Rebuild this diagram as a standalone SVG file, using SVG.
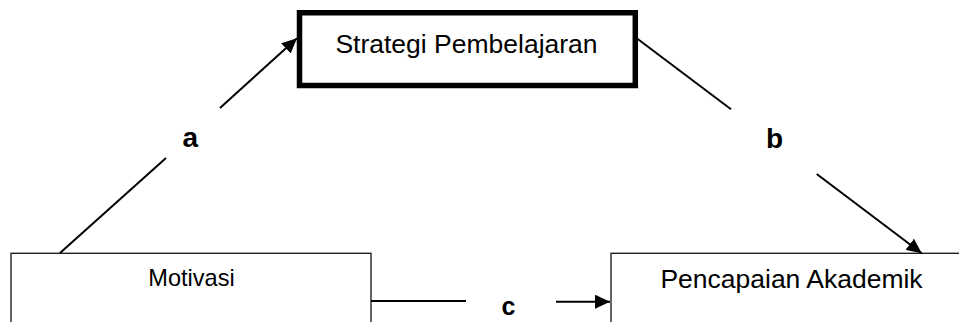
<svg xmlns="http://www.w3.org/2000/svg" width="959" height="322" viewBox="0 0 959 322">
<style>
.box{fill:#fff;stroke:#222;stroke-width:1.4}
.thick{fill:#fff;stroke:#000;stroke-width:5.5}
.lbl{font-family:"Liberation Sans",Arial,sans-serif;fill:#000}
.cn{stroke:#000;stroke-width:2;fill:none}
.k{font-family:"Liberation Sans",Arial,sans-serif;font-weight:bold;fill:#000}
</style>
<defs>
<marker id="ah" viewBox="0 0 15 14" refX="15" refY="7" markerWidth="15" markerHeight="14" markerUnits="userSpaceOnUse" orient="auto">
<path d="M0,0 L15,7 L0,14 z" fill="#000"/>
</marker>
</defs>
<rect width="959" height="322" fill="#fff"/>
<g id="node-strategi">
<rect class="thick" x="299.5" y="12.75" width="335.8" height="72.75"/>
<text class="lbl" x="466.5" y="53" font-size="26.5" text-anchor="middle">Strategi Pembelajaran</text>
</g>
<g id="node-motivasi">
<rect class="box" x="11" y="253.3" width="360" height="120"/>
<text class="lbl" x="191.5" y="286" font-size="23.6" text-anchor="middle">Motivasi</text>
</g>
<g id="node-pencapaian">
<rect class="box" x="611" y="253.3" width="400" height="120"/>
<text class="lbl" x="791.5" y="288" font-size="26.5" text-anchor="middle">Pencapaian Akademik</text>
</g>
<g id="connectors">
<line class="cn" x1="60" y1="253" x2="166" y2="158"/>
<line class="cn" x1="220" y1="108" x2="297" y2="38.3" marker-end="url(#ah)"/>
<line class="cn" x1="636.7" y1="38.3" x2="731" y2="109.3"/>
<line class="cn" x1="816.7" y1="174" x2="921.7" y2="253.3" marker-end="url(#ah)"/>
<line class="cn" x1="371" y1="301" x2="466" y2="301"/>
<line class="cn" x1="556" y1="301.7" x2="610" y2="301.7" marker-end="url(#ah)"/>
<text class="k" x="182.5" y="146.7" font-size="28">a</text>
<text class="k" x="766" y="148.3" font-size="28">b</text>
<text class="k" x="501.5" y="314.5" font-size="25">c</text>
</g>
</svg>
